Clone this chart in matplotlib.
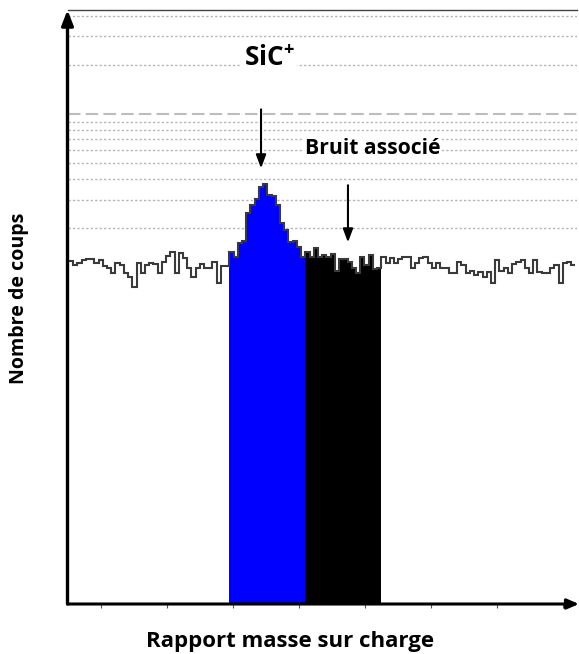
import numpy as np
import matplotlib
matplotlib.use("Agg")
import matplotlib.pyplot as plt

# ---------------- data ----------------
# counts per mass bin (log scale), 120 bins
left_noise = [126, 119, 122, 127, 129, 129, 122, 127, 117, 114,
              106, 122, 119, 106, 100, 88, 122, 106, 119, 122,
              121, 106, 124, 136, 143, 106, 141, 131, 115, 100,
              114, 121, 114, 115, 124, 92, 117, 117]
sic_peak = [143, 133, 162, 168, 247, 277, 303, 357, 376, 321,
            317, 277, 214, 194, 165, 167, 154, 133]
assoc_noise = [143, 133, 152, 133, 138, 133, 140, 110, 129, 129,
               124, 115, 106, 133, 119, 138, 112, 115]
right_noise = [134, 122, 131, 122, 129, 133, 133, 114, 122, 131,
               134, 122, 115, 122, 114, 115, 106, 106, 124, 119,
               106, 110, 103, 108, 100, 108, 92, 127, 109, 114,
               106, 121, 124, 127, 114, 106, 127, 108, 106, 106,
               114, 119, 93, 122, 124, 119]
grid_minor = [200, 300, 400, 500, 600, 700, 800, 900, 2000, 3000, 4000]
grid_major = [1000]
x_ticks = [7.6, 23.2, 38.9, 54.5, 70.1, 85.7, 101.4, 117.0]

xlabel = "Rapport masse sur charge"
ylabel = "Nombre de coups"
label_peak = "SiC$^{+}$"
label_noise = "Bruit associé"

# ---------------- figure ----------------
FONT = 'Open Sans'
plt.rcParams['font.family'] = [FONT, 'DejaVu Sans']
plt.rcParams['mathtext.fontset'] = 'custom'
plt.rcParams['mathtext.rm'] = FONT + ':bold'
plt.rcParams['mathtext.default'] = 'rm'

W, H = 579, 654
fig = plt.figure(figsize=(W / 100, H / 100), dpi=100)
ax = fig.add_axes([67.5 / W, 1 - 604 / H, (577 - 67.5) / W, (604 - 10) / H])

ax.set_yscale('log')
ymin, ymax = 1.0, 4345
ax.set_ylim(ymin, ymax)
xmin = -0.36
ax.set_xlim(xmin, xmin + 509.5 / 4.22)

values = np.array(left_noise + sic_peak + assoc_noise + right_noise, dtype=float)
edges = np.arange(len(values) + 1)
n1 = len(left_noise)
n2 = n1 + len(sic_peak)
n3 = n2 + len(assoc_noise)

# gridlines
for g in grid_minor:
    ax.axhline(g, color='#b4b4b4', lw=1.0, ls=(0, (1.6, 1.6)), zorder=1)
for g in grid_major:
    ax.axhline(g, color='#bdbdbd', lw=1.5, ls=(0, (6, 2.5)), zorder=1)

# filled regions
ax.stairs(values[:n1], edges[:n1 + 1], baseline=ymin, fill=True, color='white', zorder=2)
ax.stairs(values[n1:n2], edges[n1:n2 + 1], baseline=ymin, fill=True, color='#0000ff', zorder=2)
ax.stairs(values[n2:n3], edges[n2:n3 + 1], baseline=ymin, fill=True, color='#000000', zorder=2)
ax.stairs(values[n3:], edges[n3:], baseline=ymin, fill=True, color='white', zorder=2)
# outline
ax.stairs(values, edges, baseline=None, fill=False, color='#3a3a3a', lw=1.5, zorder=3)

# spines / axes arrows
for s in ['left', 'right', 'bottom']:
    ax.spines[s].set_visible(False)
ax.spines['top'].set_color('#444444')
ax.spines['top'].set_linewidth(1.0)
ax.set_yticks([])
ax.yaxis.set_minor_locator(matplotlib.ticker.NullLocator())
ax.set_xticks(x_ticks)
ax.set_xticklabels([])
ax.tick_params(axis='x', direction='out', length=3, width=0.8, color='#555555')

ax.annotate('', xy=(0, 1.0), xytext=(0, 0), xycoords='axes fraction',
            arrowprops=dict(arrowstyle='-|>,head_length=0.9,head_width=0.35',
                            lw=2.4, color='black', shrinkA=0, shrinkB=0),
            annotation_clip=False, zorder=5)
ax.annotate('', xy=(1.004, 0), xytext=(0, 0), xycoords='axes fraction',
            arrowprops=dict(arrowstyle='-|>,head_length=0.7,head_width=0.3',
                            lw=2.2, color='black', shrinkA=0, shrinkB=0),
            annotation_clip=False, zorder=5)

# annotation arrows
ax.annotate('', xy=(45.5, 466), xytext=(45.5, 1070),
            arrowprops=dict(arrowstyle='-|>,head_length=0.8,head_width=0.3',
                            lw=1.5, color='black', shrinkA=0, shrinkB=0), zorder=6)
ax.annotate('', xy=(66.1, 164), xytext=(66.1, 367),
            arrowprops=dict(arrowstyle='-|>,head_length=0.8,head_width=0.3',
                            lw=1.5, color='black', shrinkA=0, shrinkB=0), zorder=6)

# texts placed in pixel positions (figure fraction), sized to target extents
def place(s, cx, cy, target, rot=0, bbox=False):
    kw = dict(ha='center', va='center', fontsize=12, fontweight='bold',
              rotation=rot, zorder=6)
    if bbox:
        kw['bbox'] = dict(facecolor='white', edgecolor='none', pad=1)
    t = fig.text(cx / W, 1 - cy / H, s, **kw)
    r = fig.canvas.get_renderer()
    ext = t.get_window_extent(renderer=r)
    size = ext.height if rot else ext.width
    t.set_fontsize(12 * target / size)
    return t

place(label_peak, 269, 58, 52, bbox=True)
place(label_noise, 373, 148, 135, bbox=True)
place(xlabel, 290, 642, 288)
place(ylabel, 19, 298, 171, rot=90)

fig.savefig('out.png', dpi=100)
